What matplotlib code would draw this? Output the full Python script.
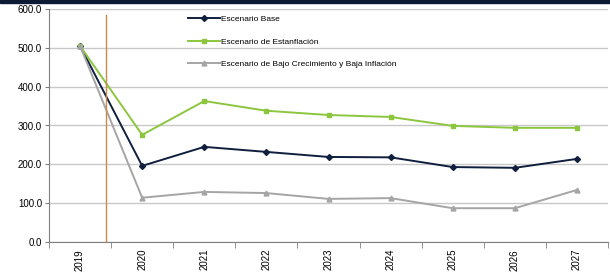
import numpy as np
import matplotlib.pyplot as plt

plt.rcParams['font.family'] = ['Liberation Sans', 'DejaVu Sans']

years = ['2019', '2020', '2021', '2022', '2023', '2024', '2025', '2026', '2027']
base = [505, 196, 245, 232, 219, 218, 193, 191, 214]
estanflacion = [505, 276, 363, 338, 327, 322, 299, 294, 294]
bajo = [505, 114, 129, 126, 111, 113, 87, 87, 134]
yticks = [0, 100, 200, 300, 400, 500, 600]

fig = plt.figure(figsize=(6.1, 2.78), dpi=100)
ax = fig.add_axes([49/610, 1 - 242/278, 559/610, 233/278])

# dark band on top of figure
fig.patches.append(plt.Rectangle((0, 1 - 3/278), 1, 3/278, transform=fig.transFigure,
                                 color='#0d1a33', zorder=10))

x = np.arange(len(years))
ax.plot(x, base, color='#0f1f3d', marker='D', markersize=3, lw=1.4, label='Escenario Base')
ax.plot(x, estanflacion, color='#8cc63e', marker='s', markersize=3.5, lw=1.4,
        label='Escenario de Estanflación')
ax.plot(x, bajo, color='#a5a5a5', marker='^', markersize=3.5, lw=1.4,
        label='Escenario de Bajo Crecimiento y Baja Inflación')

ax.axvline(0.42, color='#c98a4b', lw=1, ymax=0.974)

ax.set_xlim(-0.5, len(years) - 0.5)
ax.set_ylim(0, 600)
ax.set_yticks(yticks)
ax.set_yticklabels([f'{v:.1f}' for v in yticks], fontsize=7)
ax.yaxis.grid(True, color='#c8c8c8', lw=1)
ax.set_axisbelow(True)

ax.set_xticks(x)
ax.set_xticklabels(years, rotation=90, fontsize=7)
ax.set_xticks(np.arange(len(years) + 1) - 0.5, minor=True)
ax.tick_params(axis='x', which='major', length=0, pad=5)
ax.tick_params(axis='x', which='minor', length=4, color='#808080')
ax.tick_params(axis='y', length=3, color='#808080', pad=2)

for s in ['top', 'right']:
    ax.spines[s].set_visible(False)
for s in ['left', 'bottom']:
    ax.spines[s].set_color('#808080')

ax.legend(loc='upper left', bbox_to_anchor=(0.235, 1.005), frameon=False, fontsize=6,
          handlelength=3.8, labelspacing=1.75, handletextpad=0.15)

fig.savefig('out.png', dpi=100)
